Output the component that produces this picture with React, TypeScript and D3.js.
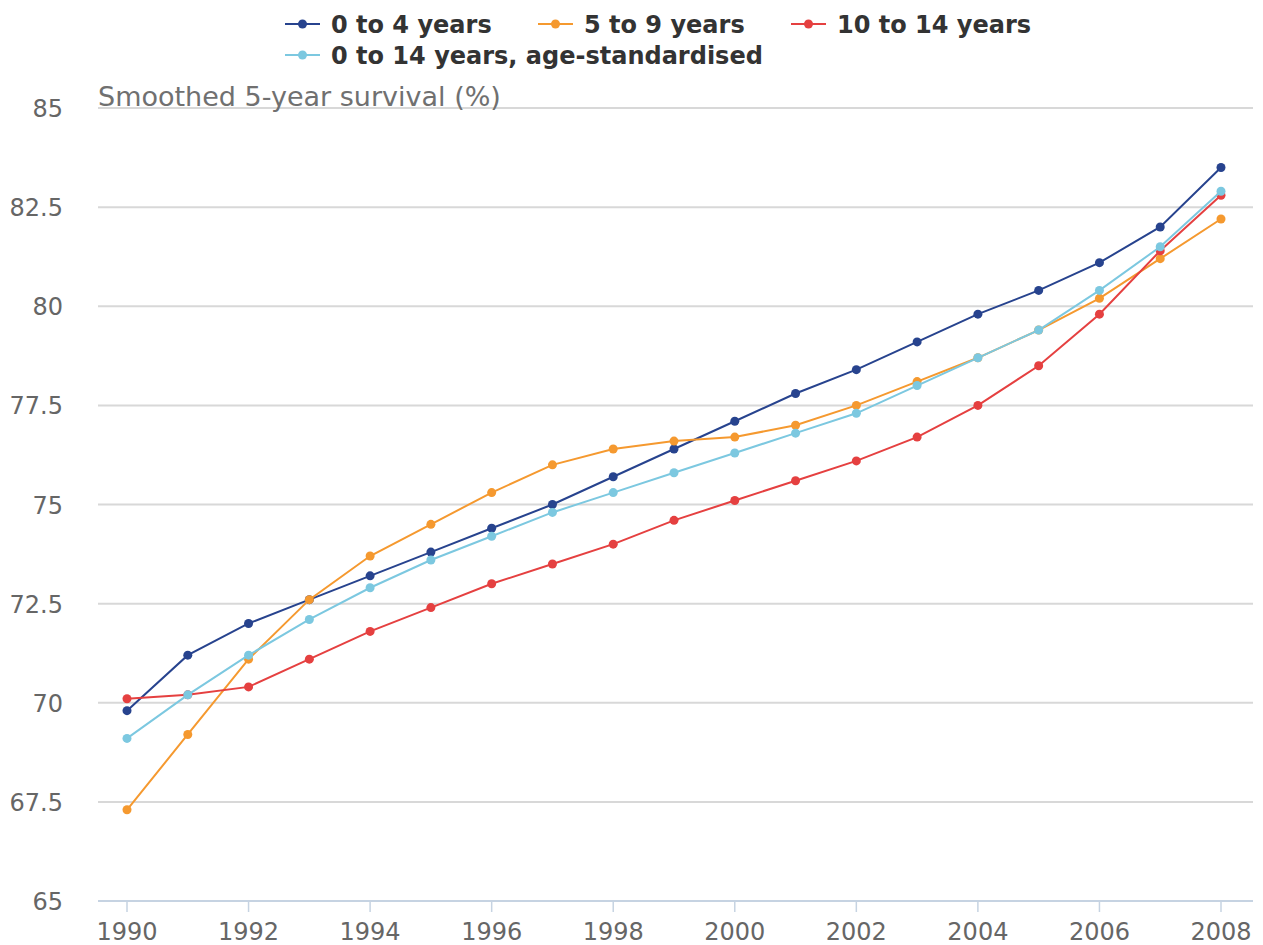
import React, { useEffect, useRef } from 'react';
import * as d3 from 'd3';

const years = [1990, 1991, 1992, 1993, 1994, 1995, 1996, 1997, 1998, 1999, 2000, 2001, 2002, 2003, 2004, 2005, 2006, 2007, 2008];

const age0to4 = [69.8, 71.2, 72.0, 72.6, 73.2, 73.8, 74.4, 75.0, 75.7, 76.4, 77.1, 77.8, 78.4, 79.1, 79.8, 80.4, 81.1, 82.0, 83.5];
const age5to9 = [67.3, 69.2, 71.1, 72.6, 73.7, 74.5, 75.3, 76.0, 76.4, 76.6, 76.7, 77.0, 77.5, 78.1, 78.7, 79.4, 80.2, 81.2, 82.2];
const age10to14 = [70.1, 70.2, 70.4, 71.1, 71.8, 72.4, 73.0, 73.5, 74.0, 74.6, 75.1, 75.6, 76.1, 76.7, 77.5, 78.5, 79.8, 81.4, 82.8];
const ageStd = [69.1, 70.2, 71.2, 72.1, 72.9, 73.6, 74.2, 74.8, 75.3, 75.8, 76.3, 76.8, 77.3, 78.0, 78.7, 79.4, 80.4, 81.5, 82.9];

const yTicks = [65, 67.5, 70, 72.5, 75, 77.5, 80, 82.5, 85];
const xTicks = [1990, 1992, 1994, 1996, 1998, 2000, 2002, 2004, 2006, 2008];

const seriesList = [
    { label: '0 to 4 years', values: age0to4, color: '#27438e' },
    { label: '5 to 9 years', values: age5to9, color: '#f5992f' },
    { label: '10 to 14 years', values: age10to14, color: '#e54040' },
    { label: '0 to 14 years, age-standardised', values: ageStd, color: '#7cc8e0' },
];

const FONT = '"DejaVu Sans", sans-serif';

export default function App() {
    const ref = useRef<SVGSVGElement | null>(null);

    useEffect(() => {
        if (!ref.current) return;
        const svg = d3.select(ref.current);
        svg.selectAll('*').remove();

        const left = 98, right = 1253, top = 108, bottom = 901;
        const x = d3.scaleLinear().domain([1990, 2008]).range([127, 1221]);
        const y = d3.scaleLinear().domain([65, 85]).range([bottom, top]);

        // grid
        svg.append('g')
            .selectAll('line')
            .data(yTicks.filter(t => t !== 65))
            .enter().append('line')
            .attr('x1', left).attr('x2', right)
            .attr('y1', d => y(d)).attr('y2', d => y(d))
            .attr('stroke', '#d8d8d8')
            .attr('stroke-width', 2);

        // y labels
        svg.append('g')
            .selectAll('text')
            .data(yTicks)
            .enter().append('text')
            .attr('x', 63)
            .attr('y', d => y(d) + 9)
            .attr('text-anchor', 'end')
            .style('font-family', FONT)
            .style('font-size', '24px')
            .style('fill', '#666666')
            .text(d => String(d));

        // x axis
        svg.append('line')
            .attr('x1', left).attr('x2', right)
            .attr('y1', bottom).attr('y2', bottom)
            .attr('stroke', '#c6d3e2')
            .attr('stroke-width', 2);

        const xg = svg.append('g');
        xg.selectAll('line')
            .data(xTicks)
            .enter().append('line')
            .attr('x1', d => x(d)).attr('x2', d => x(d))
            .attr('y1', bottom).attr('y2', bottom + 11)
            .attr('stroke', '#c6d3e2')
            .attr('stroke-width', 1.5);
        xg.selectAll('text')
            .data(xTicks)
            .enter().append('text')
            .attr('x', d => x(d))
            .attr('y', 940)
            .attr('text-anchor', 'middle')
            .style('font-family', FONT)
            .style('font-size', '24px')
            .style('fill', '#666666')
            .text(d => String(d));

        // title
        svg.append('text')
            .attr('x', left)
            .attr('y', 106)
            .style('font-family', FONT)
            .style('font-size', '27px')
            .style('fill', '#707070')
            .text('Smoothed 5-year survival (%)');

        // lines
        const line = d3.line<number>()
            .x((_, i) => x(years[i]))
            .y(d => y(d));

        seriesList.forEach(s => {
            const g = svg.append('g');
            g.append('path')
                .datum(s.values)
                .attr('fill', 'none')
                .attr('stroke', s.color)
                .attr('stroke-width', 2)
                .attr('d', line);
            g.selectAll('circle')
                .data(s.values)
                .enter().append('circle')
                .attr('cx', (_, i) => x(years[i]))
                .attr('cy', d => y(d))
                .attr('r', 4.5)
                .style('fill', s.color);
        });

        // legend
        const legendPos = [
            { x: 285, y: 24 },
            { x: 538, y: 24 },
            { x: 791, y: 24 },
            { x: 285, y: 55 },
        ];
        const legend = svg.selectAll('.legend')
            .data(seriesList)
            .enter().append('g')
            .attr('transform', (_, i) => `translate(${legendPos[i].x}, ${legendPos[i].y})`);
        legend.append('line')
            .attr('x1', 0).attr('x2', 35)
            .attr('stroke', d => d.color)
            .attr('stroke-width', 2);
        legend.append('circle')
            .attr('cx', 17.5).attr('r', 4.5)
            .style('fill', d => d.color);
        legend.append('text')
            .attr('x', 46)
            .attr('y', 9)
            .style('font-family', FONT)
            .style('font-size', '24px')
            .style('font-weight', 'bold')
            .style('fill', '#333333')
            .text(d => d.label);
    }, []);

    return (
        <svg ref={ref} width={1263} height={945} style={{ position: 'absolute', left: 0, top: 0, background: '#fff' }} />
    );
}
